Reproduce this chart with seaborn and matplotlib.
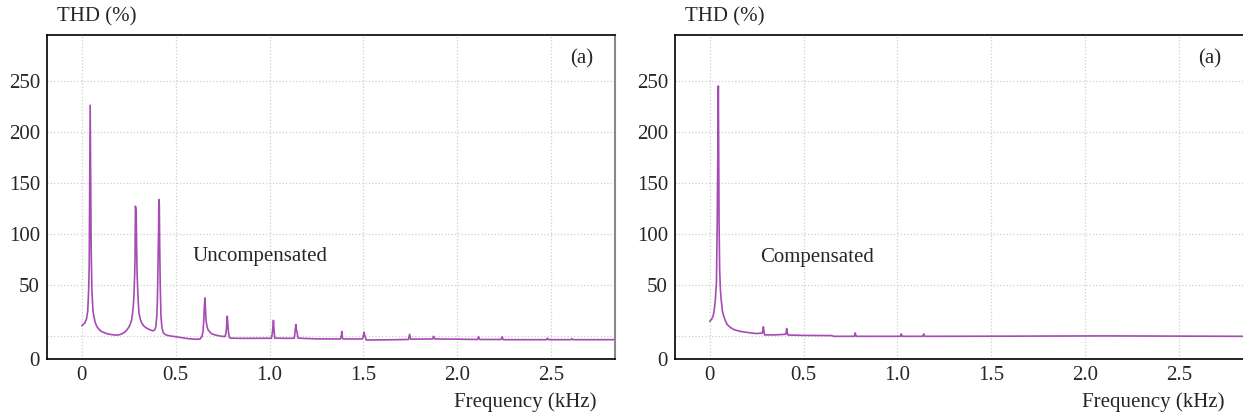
import matplotlib
matplotlib.use("Agg")
import matplotlib.pyplot as plt
import seaborn as sns
import pandas as pd

# Uncompensated spectrum (kHz, THD %)
unc_freq = [0.000, 0.015, 0.025, 0.032, 0.037, 0.040, 0.043, 0.045, 0.047, 0.050,
            0.054, 0.060, 0.070, 0.080, 0.095, 0.106, 0.125, 0.142, 0.177, 0.200,
            0.213, 0.230, 0.240, 0.250, 0.257, 0.265, 0.270, 0.275, 0.278, 0.282,
            0.284, 0.286, 0.288, 0.290, 0.292, 0.295, 0.298, 0.302, 0.305, 0.312,
            0.319, 0.330, 0.346, 0.365, 0.381, 0.390, 0.395, 0.400, 0.403, 0.407,
            0.409, 0.411, 0.413, 0.415, 0.418, 0.422, 0.427, 0.434, 0.445, 0.461,
            0.496, 0.530, 0.567, 0.600, 0.629, 0.640, 0.646, 0.650, 0.653, 0.656,
            0.659, 0.662, 0.667, 0.673, 0.690, 0.709, 0.740, 0.762, 0.768, 0.771,
            0.775, 0.778, 0.781, 0.786, 0.790, 0.850, 0.950, 1.010, 1.015, 1.018,
            1.021, 1.024, 1.028, 1.100, 1.132, 1.137, 1.140, 1.143, 1.147, 1.152,
            1.250, 1.378, 1.383, 1.385, 1.388, 1.392, 1.494, 1.499, 1.503, 1.508,
            1.515, 1.600, 1.740, 1.746, 1.752, 1.868, 1.874, 1.880, 2.000, 2.107,
            2.113, 2.119, 2.233, 2.239, 2.245, 2.475, 2.480, 2.485, 2.605, 2.610,
            2.615, 2.840]
unc_thd = [9.7, 12, 16, 24, 45, 70, 160, 226, 165, 90,
           45, 24, 14, 9, 5.5, 4, 2.5, 1.5, 0.5, 0.8,
           1.7, 3.5, 5.6, 8, 10.6, 15, 20.5, 30, 39, 60,
           78, 127, 124, 122, 90, 60, 45, 30, 22, 16,
           12.5, 9.5, 7.3, 5.5, 4.7, 6, 9, 20, 35, 80,
           100, 133.5, 130, 92, 50, 19, 8, 3, 1, 0,
           -1, -2, -3, -3.5, -3.5, -1, 4, 15, 28, 37,
           25, 15, 9, 5.6, 2, 0.7, -0.5, -1, 2, 8,
           19, 12, 4, -1.5, -2.5, -2.7, -2.7, -2.6, 2, 9,
           15, 6, -2.5, -2.7, -2.5, 5, 11, 6, 3, -2.5,
           -3.2, -3.3, 0, 4, -2.5, -3.3, -3.3, -1, 3.4, -0.5,
           -4.3, -4.2, -3.8, 1.3, -3.5, -3.3, -0.7, -3.3, -3.5, -3.8,
           -1, -3.8, -3.8, -1.2, -4, -4, -2.5, -4, -4, -3,
           -4, -4]

# Compensated spectrum (kHz, THD %)
comp_freq = [0.000, 0.010, 0.018, 0.025, 0.030, 0.036, 0.040, 0.043, 0.046, 0.048,
             0.050, 0.053, 0.057, 0.061, 0.068, 0.075, 0.085, 0.093, 0.110, 0.128,
             0.155, 0.181, 0.220, 0.253, 0.280, 0.283, 0.286, 0.289, 0.292, 0.342,
             0.380, 0.405, 0.408, 0.410, 0.413, 0.417, 0.500, 0.650, 0.660, 0.770,
             0.775, 0.780, 1.015, 1.020, 1.025, 1.135, 1.140, 1.145, 1.500, 2.100,
             2.840]
comp_thd = [14, 16, 19, 26, 35, 52, 110, 175, 245, 180,
            110, 65, 45, 35.6, 24, 19, 14, 11, 8, 6,
            4.5, 3.6, 2.6, 2, 2.6, 5, 8.6, 4, 0.7, 0.7,
            1, 1.3, 4, 7, 3, 0.6, 0.2, 0, -0.7, -0.7,
            2.7, -0.7, -0.7, 1.7, -0.7, -0.7, 1.7, -0.7, -0.6, -0.3,
            -0.7]

x_ticks = [0, 0.5, 1.0, 1.5, 2.0, 2.5]
x_ticklabels = ["0", "0.5", "1.0", "1.5", "2.0", "2.5"]
y_ticks = [-23, 0, 50, 100, 150, 200, 250]
y_ticklabels = ["0", "", "50", "100", "150", "200", "250"]

panels = [
    (unc_freq, unc_thd, "Uncompensated", (0.59, 78)),
    (comp_freq, comp_thd, "Compensated", (0.27, 77)),
]

sns.set_theme(style="white")
plt.rcParams["font.family"] = ["Liberation Serif", "DejaVu Serif"]
fontsize = 15
line_color = "#a64bb4"

fig = plt.figure(figsize=(12.43, 4.17), dpi=100)
axes = [fig.add_axes([0.0378, 0.139, 0.457, 0.777]),
        fig.add_axes([0.543, 0.139, 0.457, 0.777])]

for i, (ax, (freq, thd, label, pos)) in enumerate(zip(axes, panels)):
    df = pd.DataFrame({"freq": freq, "thd": thd})
    sns.lineplot(data=df, x="freq", y="thd", ax=ax, color=line_color,
                 linewidth=1.2, sort=False, estimator=None)
    ax.set_xlim(-0.185, 2.84)
    ax.set_ylim(-23, 295)
    ax.set_xticks(x_ticks)
    ax.set_xticklabels(x_ticklabels, fontsize=fontsize)
    ax.set_yticks(y_ticks)
    ax.set_yticklabels(y_ticklabels, fontsize=fontsize)
    ax.tick_params(axis="y", length=0, pad=5)
    ax.tick_params(axis="x", length=0, pad=5)
    ax.grid(True, color="#cfcfcf", linestyle=":", linewidth=0.9)
    ax.set_xlabel("")
    ax.set_ylabel("")
    for side in ["left", "bottom", "top"]:
        ax.spines[side].set_color("black")
        ax.spines[side].set_linewidth(1.2)
    if i == 0:
        ax.spines["right"].set_color("#888888")
        ax.spines["right"].set_linewidth(1.5)
    else:
        ax.spines["right"].set_visible(False)
    ax.text(pos[0], pos[1], label, fontsize=fontsize, va="center", ha="left")
    ax.text(0.941, 0.926, "(a)", transform=ax.transAxes, fontsize=fontsize,
            ha="center", va="center")
    ax.text(0.018, 1.055, "THD (%)", transform=ax.transAxes, fontsize=fontsize,
            ha="left", va="center")
    ax.text(0.968, -0.132, "Frequency (kHz)", transform=ax.transAxes,
            fontsize=fontsize, ha="right", va="center")

fig.savefig("out.png", dpi=100)
